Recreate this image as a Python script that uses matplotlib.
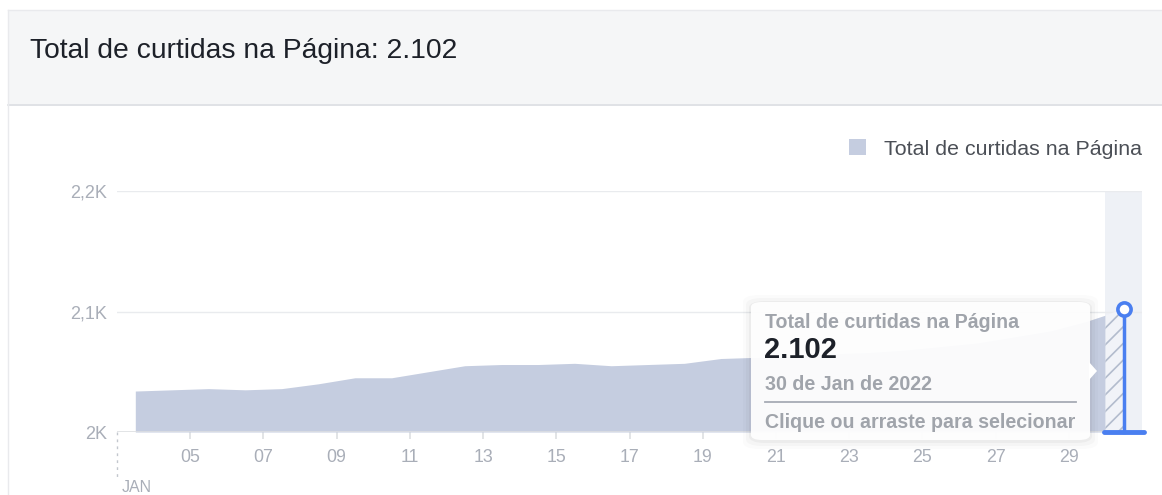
import numpy as np
import matplotlib
matplotlib.use("Agg")
import matplotlib.pyplot as plt
from matplotlib.patches import Rectangle, FancyBboxPatch, Polygon

plt.rcParams['font.family'] = ['Liberation Sans', 'DejaVu Sans']
plt.rcParams['hatch.linewidth'] = 1.2

# dados (dias de janeiro/2022 e total de curtidas)
days = np.arange(3, 31)
likes = [2034, 2035, 2036, 2035, 2036, 2040, 2045, 2045, 2050, 2055,
         2056, 2056, 2057, 2055, 2056, 2057, 2061, 2062, 2063, 2065,
         2066, 2068, 2071, 2074, 2079, 2084, 2092, 2102]
xticks = np.arange(5, 30, 2)
xticklabels = ['%02d' % d for d in xticks]
yticks = [2000, 2100, 2200]
yticklabels = ['2K', '2,1K', '2,2K']
series_name = 'Total de curtidas na Página'
total = '2.102'
sel_date = '30 de Jan de 2022'

W, H = 1162, 495
fig = plt.figure(figsize=(W / 100, H / 100), dpi=100)


def fx(x):
    return x / W


def fy(y):
    return 1 - y / H


# cabeçalho cinza
fig.patches.append(Rectangle((fx(8), fy(104)), fx(W - 8), (104 - 10) / H,
                             transform=fig.transFigure, facecolor='#f5f6f7',
                             edgecolor='none', zorder=0))
fig.add_artist(plt.Line2D([fx(8), 1], [fy(104.5), fy(104.5)], color='#dadde1', lw=1.2))
fig.add_artist(plt.Line2D([fx(8), 1], [fy(10), fy(10)], color='#e9eaed', lw=1))
fig.add_artist(plt.Line2D([fx(7.5), fx(7.5)], [0, fy(10)], color='#e9eaed', lw=1))
fig.text(fx(30), fy(51), series_name + ': ' + total, fontsize=20.3,
         color='#1d2129', va='center', ha='left')

ax = fig.add_axes([fx(117), fy(432), fx(1142 - 117), (432 - 191) / H])
pos = days + 0.5

# faixa do dia selecionado
ax.axvspan(days[-1], days[-1] + 1, color='#eef1f6', zorder=0, lw=0)

ax.fill_between(pos, 2000, likes, color='#c5cde0', lw=0, zorder=2, label=series_name)
y_mid = np.interp(days[-1], pos, likes)
ax.fill_between([days[-1], pos[-1]], 2000, [y_mid, likes[-1]], facecolor='#f1f3f8',
                hatch='//', edgecolor='#b3bccd', lw=0, zorder=3)

ax.set_xlim(3, 31)
ax.set_ylim(2000, 2200)
for y in yticks[1:]:
    ax.axhline(y, color='#e9ebee', lw=1, zorder=1)
ax.axhline(2000, color='#dddfe2', lw=1.2, zorder=4)

ax.set_xticks(xticks)
ax.set_xticklabels(xticklabels)
ax.set_yticks(yticks)
ax.set_yticklabels(yticklabels)
ax.tick_params(axis='x', length=5, width=1.2, color='#dddfe2', labelcolor='#a9aeb8',
               labelsize=12.8, pad=7)
ax.tick_params(axis='y', length=0, labelcolor='#a9aeb8', labelsize=13, pad=7)
for s in ax.spines.values():
    s.set_visible(False)

# linha pontilhada de início do mês + JAN
ax.plot([3, 3], [2000, 1960], color='#c3c7ce', lw=1, ls=(0, (2, 3)), clip_on=False)
ax.text(3.12, 1950, 'JAN', fontsize=11.5, color='#a9aeb8', va='baseline', ha='left',
        clip_on=False)

# marcador azul do dia selecionado
blue = '#4a7ff0'
ax.plot([pos[-1], pos[-1]], [2000, likes[-1]], color=blue, lw=2.5, zorder=6, clip_on=False)
ax.plot([days[-1] - 0.05, days[-1] + 1.05], [2000, 2000], color=blue, lw=3.5,
        zorder=6, clip_on=False, solid_capstyle='round')
ax.plot(pos[-1], likes[-1], 'o', ms=9.5, mfc='white', mec=blue, mew=2.6, zorder=7,
        clip_on=False)

ax.legend(loc='center right', bbox_to_anchor=(1.0, (432 - 149) / 241), frameon=False,
          fontsize=15.4, handlelength=0.78, handleheight=0.78, handletextpad=0.85,
          borderpad=0, borderaxespad=0, labelcolor='#4b4f56')

# tooltip
bx0, by0, bx1, by1 = 751, 302, 1090, 440
for i, a in enumerate([0.035, 0.025, 0.015]):
    g = 2 + i * 3
    fig.patches.append(FancyBboxPatch((fx(bx0 - g), fy(by1 + g + 1)), fx(bx1 - bx0 + 2 * g),
                                      (by1 - by0 + 2 * g) / H,
                                      boxstyle='round,pad=0,rounding_size=0.014',
                                      transform=fig.transFigure, facecolor='black',
                                      alpha=a, edgecolor='none', zorder=10))
fig.patches.append(FancyBboxPatch((fx(bx0), fy(by1)), fx(bx1 - bx0), (by1 - by0) / H,
                                  boxstyle='round,pad=0,rounding_size=0.01',
                                  transform=fig.transFigure, facecolor='white', alpha=0.94,
                                  edgecolor='none', zorder=11))
fig.patches.append(Polygon([(fx(bx1 - 1), fy(362)), (fx(bx1 + 7), fy(371)), (fx(bx1 - 1), fy(380))],
                           closed=True, transform=fig.transFigure, facecolor='white',
                           edgecolor='none', zorder=12))
fig.text(fx(765), fy(322), series_name, fontsize=14.1, fontweight='bold',
         color='#a0a4ab', va='center', ha='left', zorder=13)
fig.text(fx(764), fy(350), total, fontsize=21, fontweight='bold',
         color='#1d2129', va='center', ha='left', zorder=13)
fig.text(fx(765), fy(384), sel_date, fontsize=14.1, fontweight='bold',
         color='#a0a4ab', va='center', ha='left', zorder=13)
fig.add_artist(plt.Line2D([fx(765), fx(1076)], [fy(402), fy(402)], color='#a6abb5',
                          lw=1.3, zorder=13))
fig.text(fx(765), fy(422), 'Clique ou arraste para selecionar', fontsize=14.1,
         fontweight='bold', color='#a0a4ab', va='center', ha='left', zorder=13)

fig.savefig('out.png', dpi=100)
